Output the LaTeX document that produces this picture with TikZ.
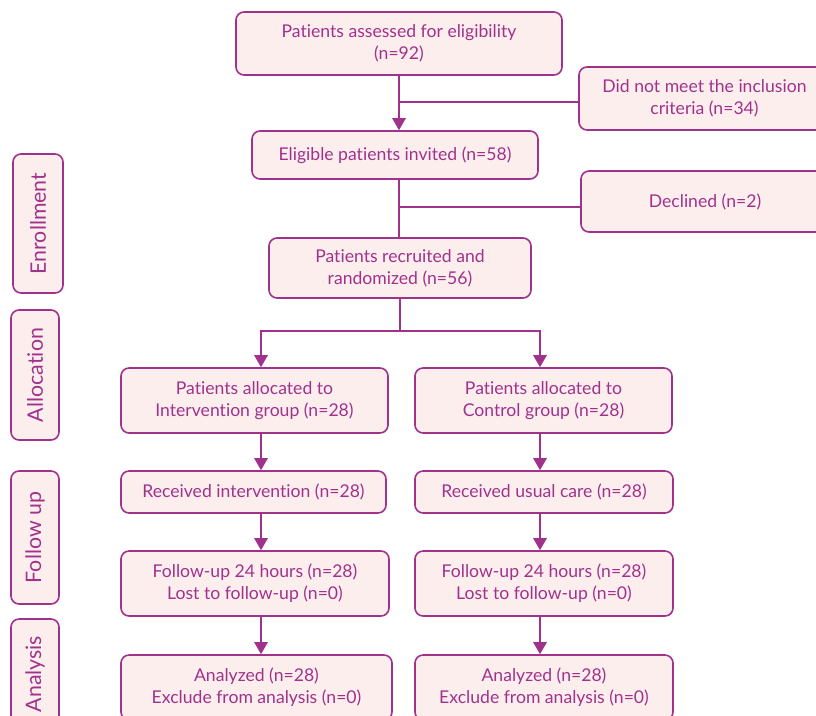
\documentclass[tikz,border=0pt]{standalone}
\usepackage{fontspec}
\setmainfont{Lato}[Ligatures={NoCommon,NoRare}]
\usetikzlibrary{positioning, calc, arrows.meta}
\definecolor{flowpurple}{RGB}{160,50,140}
\definecolor{flowpink}{RGB}{253,238,238}
\tikzset{fbox/.style={draw=flowpurple, fill=flowpink, line width=1.2pt, rounded corners=6pt, text=flowpurple, align=center, inner sep=0pt, font=\fontsize{13.2}{16.5}\selectfont}}
\tikzset{sidebox/.style={fbox, rotate=90, minimum height=36pt, font=\fontsize{16}{18}\selectfont}}
\tikzset{ln/.style={draw=flowpurple, line width=1.4pt}}
\tikzset{arr/.style={ln, -{Triangle[width=10pt, length=9pt]}}}

\begin{document}
\begin{tikzpicture}[x=0.75pt, y=-0.75pt]
  \useasboundingbox (0,0) rectangle (816,715);
  % enrollment column
  \node[fbox, minimum width=244.5pt, minimum height=47.25pt] (assess) at (399,43.5) {Patients assessed for eligibility\\(n=92)};
  \node[fbox, minimum width=188.25pt, minimum height=47.25pt] (nomeet) at (704.5,98.5) {Did not meet the inclusion\\criteria (n=34)};
  \node[fbox, minimum width=214.5pt, minimum height=36pt] (invited) at (395,155) {Eligible patients invited (n=58)};
  \node[fbox, minimum width=186pt, minimum height=45.75pt] (declined) at (705,201.5) {Declined (n=2)};
  \node[fbox, minimum width=196.5pt, minimum height=45pt] (recruit) at (400,268) {Patients recruited and\\randomized (n=56)};
  % two arms
  \node[fbox, minimum width=200.25pt, minimum height=48.75pt] (allocI) at (254.5,400.5) {Patients allocated to\\Intervention group (n=28)};
  \node[fbox, minimum width=192.75pt, minimum height=48.75pt] (allocC) at (543.5,400.5) {Patients allocated to\\Control group (n=28)};
  \node[fbox, minimum width=198.75pt, minimum height=31.5pt] (recvI) at (253.5,492) {Received intervention (n=28)};
  \node[fbox, minimum width=193.5pt, minimum height=31.5pt] (recvC) at (544,492) {Received usual care (n=28)};
  \node[fbox, minimum width=201pt, minimum height=48.75pt] (fuI) at (255,583.5) {Follow-up 24 hours (n=28)\\Lost to follow-up (n=0)};
  \node[fbox, minimum width=193.5pt, minimum height=48.75pt] (fuC) at (544,583.5) {Follow-up 24 hours (n=28)\\Lost to follow-up (n=0)};
  \node[fbox, minimum width=203.25pt, minimum height=48.75pt] (anI) at (256.5,687.5) {Analyzed (n=28)\\Exclude from analysis (n=0)};
  \node[fbox, minimum width=193.5pt, minimum height=48.75pt] (anC) at (544,687.5) {Analyzed (n=28)\\Exclude from analysis (n=0)};
  % stage labels
  \node[sidebox, minimum width=104.25pt, minimum height=37.5pt] (enroll) at (38,223.5) {Enrollment};
  \node[sidebox, minimum width=97.5pt] (alloc) at (35,375) {Allocation};
  \node[sidebox, minimum width=99.75pt] (follow) at (35,537.5) {Follow up};
  \node[sidebox, minimum width=82.5pt] (analysis) at (35,674) {Analysis};
  % connectors
  \coordinate (j1) at (399,102);
  \coordinate (j2) at (399,207);
  \coordinate (j3) at (400,331);
  \coordinate (cL) at (261,331);
  \coordinate (cR) at (540,331);
  \draw[arr] (assess.south -| j1) -- (invited.north -| j1);
  \draw[ln] (j1) -- (j1 -| nomeet.west);
  \draw[ln] (invited.south -| j2) -- (recruit.north -| j2);
  \draw[ln] (j2) -- (j2 -| declined.west);
  \draw[ln] (recruit.south -| j3) -- (j3);
  \draw[arr] (j3) -- (cL) -- (cL |- allocI.north);
  \draw[arr] (j3) -- (cR) -- (cR |- allocC.north);
  \draw[arr] (allocI.south -| cL) -- (recvI.north -| cL);
  \draw[arr] (allocC.south -| cR) -- (recvC.north -| cR);
  \draw[arr] (recvI.south -| cL) -- (fuI.north -| cL);
  \draw[arr] (recvC.south -| cR) -- (fuC.north -| cR);
  \draw[arr] (fuI.south -| cL) -- (anI.north -| cL);
  \draw[arr] (fuC.south -| cR) -- (anC.north -| cR);
\end{tikzpicture}
\end{document}
